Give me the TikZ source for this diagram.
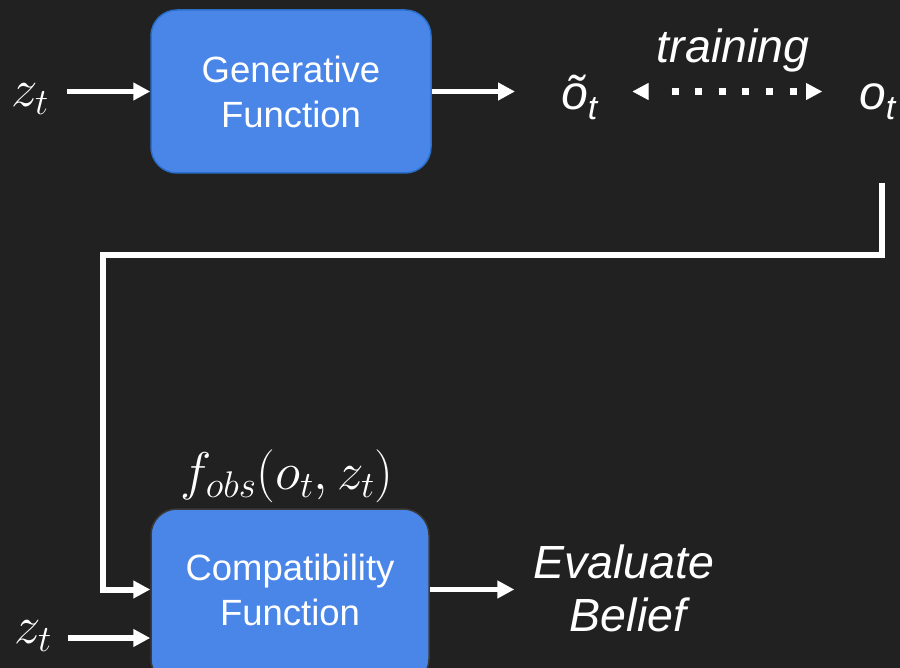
\RequirePackage{fix-cm}
\documentclass[tikz,border=0pt]{standalone}
\usepackage{fontspec}
\setmainfont{Liberation Sans}
\usetikzlibrary{arrows.meta}
\definecolor{bg}{HTML}{212121}
\definecolor{boxfill}{HTML}{4A86E8}
\definecolor{boxedge}{HTML}{2A6FC9}
\definecolor{boxedgedark}{HTML}{3A3A3A}
\begin{document}
\begin{tikzpicture}[x=1pt,y=-1pt,
  arr/.style={draw=white, line width=5.5pt, -{Triangle[length=17pt,width=17pt]}},
  fnbox/.style={draw=boxedge, line width=1.5pt, fill=boxfill, rounded corners=26pt,
    minimum width=280pt, minimum height=163pt, inner sep=0pt},
  boxtext/.style={text=white, font=\fontsize{36.5}{45}\selectfont, align=center},
  itext/.style={text=white, font=\fontsize{46.5}{53}\selectfont\itshape, align=center, inner sep=0pt},
  mtext/.style={text=white, font=\fontsize{53}{60}\selectfont, inner sep=0pt},
  otext/.style={text=white, font=\fontsize{48}{50}\selectfont\itshape, inner sep=0pt},
  dotline/.style={draw=white, line width=7pt, dash pattern=on 7pt off 16.6pt},
  tipsonly/.style={draw=white, line width=1pt, dash pattern=on 0pt off 500pt,
    {Triangle[length=16pt,width=17pt]}-{Triangle[length=16pt,width=17pt]}}]

% background and page frame
\fill[bg] (0,0) rectangle (900,668);
\useasboundingbox (0,0) rectangle (900,668);

% upper row: generator
\node[fnbox, boxtext] (gen) at (291,91.5) {Generative\\Function};
\node[mtext] (z1) at (30,99) {$z_t$};
\draw[arr, shorten <=18pt] (z1.east |- gen.west) -- (gen.west);

\node[otext, anchor=base west] (ot) at (561,110) {õ\raisebox{-10pt}{\fontsize{34}{36}\selectfont t}};
\node[otext, anchor=base west] (o) at (859,110) {o\raisebox{-10pt}{\fontsize{34}{36}\selectfont t}};
\draw[arr, shorten >=46pt] (gen.east) -- (gen.east -| ot.west);

\node[itext, anchor=base] (train) at (733,63) {training};
\draw[tipsonly, shorten <=35pt, shorten >=37pt] (ot.east |- gen.west) -- (o.west |- gen.west);
\draw[dotline, shorten <=74pt, shorten >=60pt] (ot.east |- gen.west) -- (o.west |- gen.west);

% lower row: compatibility
\node[fnbox, draw=boxedgedark, minimum width=278pt, minimum height=176pt] (cmp) at (290,597) {};
\node[boxtext] (ctext) at (290,589.5) {Compatibility\\Function};
\node[mtext] (fobs) at (287,476) {$f_{obs}(o_t,z_t)$};
\node[mtext] (z2) at (33,636) {$z_t$};
\draw[arr, shorten <=16pt] ([yshift=-2pt]z2.east) -- ([yshift=-2pt]z2.east -| cmp.west);

\node[itext] (eval) at (624,588) {Evaluate\\\hspace*{8pt}Belief};
\draw[arr, shorten >=19pt] (cmp.east |- ctext) -- (ctext -| eval.west);

% feedback of the observation into the compatibility function
\coordinate (ofeed) at (882,183);
\coordinate (turn) at (103,255);
\draw[arr, line width=6pt] (ofeed) |- (turn) |- (cmp.west |- ctext);
\end{tikzpicture}
\end{document}
